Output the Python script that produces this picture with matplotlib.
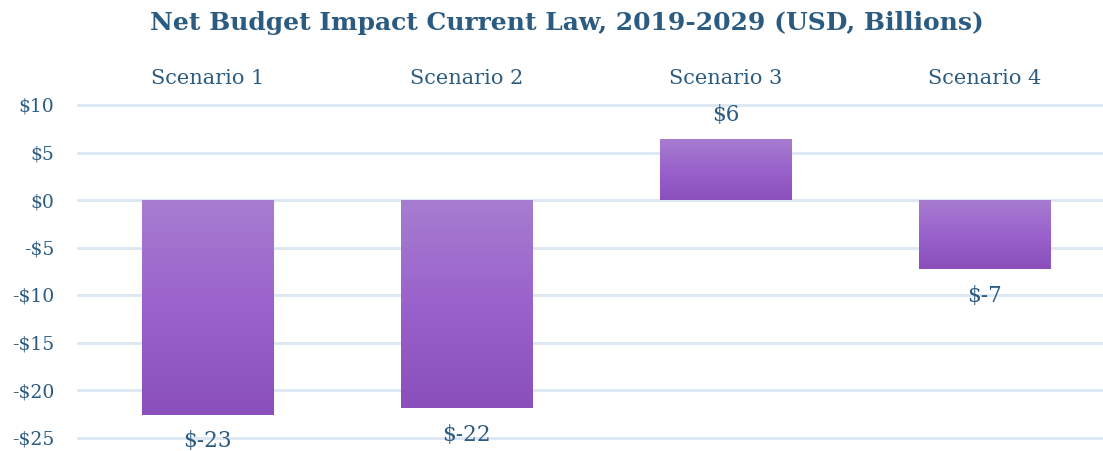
import matplotlib
matplotlib.use("Agg")
import matplotlib.pyplot as plt
import numpy as np
from matplotlib.colors import LinearSegmentedColormap

categories = ["Scenario 1", "Scenario 2", "Scenario 3", "Scenario 4"]
values = [-22.6, -21.9, 6.4, -7.3]
yticks = [10, 5, 0, -5, -10, -15, -20, -25]
ytick_labels = ["$10", "$5", "$0", "-$5", "-$10", "-$15", "-$20", "-$25"]
title = "Net Budget Impact Current Law, 2019-2029 (USD, Billions)"

text_color = "#2B5B80"
grid_color = "#DCE7F2"
cmap = LinearSegmentedColormap.from_list("bar", ["#8A4FBA", "#9A62CC", "#A77DD0"])

plt.rcParams["font.family"] = ["DejaVu Serif"]

W, H = 1103, 451
fig = plt.figure(figsize=(W / 100, H / 100), dpi=100)
left, right, top, bottom = 78, 1103, 105, 437.5
ax = fig.add_axes([left / W, (H - bottom) / H, (right - left) / W, (bottom - top) / H])

x = np.arange(len(categories))
bars = ax.bar(x, values, width=0.506, color="none", zorder=3)
grad = np.linspace(0, 1, 256).reshape(-1, 1)
for rect in bars:
    x0, y0 = rect.get_x(), rect.get_y()
    w, h = rect.get_width(), rect.get_height()
    ylo, yhi = min(y0, y0 + h), max(y0, y0 + h)
    im = ax.imshow(grad, cmap=cmap, aspect="auto", origin="lower",
                   extent=[x0, x0 + w, ylo, yhi], zorder=3)
    im.set_clip_path(rect)

for xi, v in zip(x, values):
    lab = f"${round(v):.0f}"
    off = 2.5 if v >= 0 else -2.8
    ax.text(xi, v + off, lab, ha="center", va="center", fontsize=15.5,
            color=text_color, clip_on=False)

ax.set_ylim(-25, 10)
ax.set_xlim(-0.5, (right - 207.5) / 259)
ax.set_yticks(yticks)
ax.set_yticklabels(ytick_labels)
ax.set_xticks(x)
ax.set_xticklabels(categories)
ax.xaxis.tick_top()
ax.tick_params(axis="x", length=0, pad=12, labelsize=15, colors=text_color)
ax.tick_params(axis="y", length=0, pad=17, labelsize=13.5, colors=text_color)
ax.grid(axis="y", color=grid_color, linewidth=2, zorder=0)
for gl in ax.get_ygridlines():
    gl.set_clip_on(False)
ax.set_axisbelow(True)
for s in ax.spines.values():
    s.set_visible(False)

fig.text(567 / W, 1 - 23 / H, title, ha="center", va="center", fontsize=18,
         fontweight="bold", color=text_color)

fig.savefig("out.png", dpi=100)
